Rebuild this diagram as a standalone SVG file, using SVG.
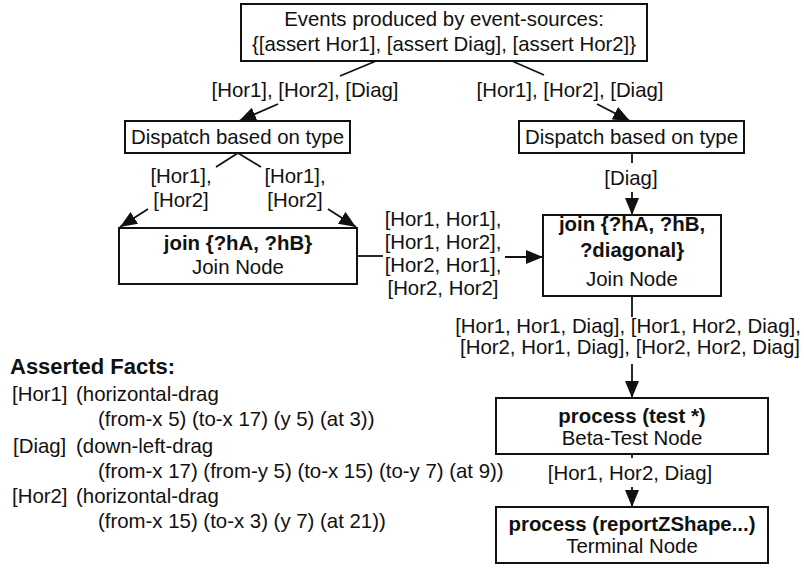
<svg xmlns="http://www.w3.org/2000/svg" width="804" height="568" viewBox="0 0 804 568">
<style>
text{font-family:"Liberation Sans",Arial,Helvetica,sans-serif;font-size:20.4px;fill:#111}
.c{text-anchor:middle}
.b{font-weight:bold}
.box{fill:#fff;stroke:#111;stroke-width:2}
.ln{stroke:#111;stroke-width:1.8;fill:none}
.ar{marker-end:url(#ah)}
</style>
<defs>
<marker id="ah" markerUnits="userSpaceOnUse" markerWidth="18" markerHeight="15" refX="17" refY="7" orient="auto">
<path d="M0,0 L17,7 L0,14 z" fill="#111"/>
</marker>
</defs>
<rect width="804" height="568" fill="#fff"/>
<g id="connectors">
<line class="ln" x1="376" y1="61" x2="340" y2="76"/>
<line class="ln ar" x1="278" y1="104" x2="239" y2="121"/>
<line class="ln" x1="512" y1="61" x2="544" y2="75"/>
<line class="ln ar" x1="597" y1="104" x2="630" y2="121"/>
<line class="ln" x1="238" y1="153" x2="216" y2="167"/>
<line class="ln" x1="238" y1="153" x2="261" y2="167"/>
<line class="ln ar" x1="148" y1="209" x2="120" y2="227"/>
<line class="ln ar" x1="328" y1="209" x2="356" y2="227"/>
<line class="ln" x1="632" y1="153" x2="632" y2="163"/>
<line class="ln ar" x1="632" y1="192" x2="632" y2="215"/>
<line class="ln" x1="357" y1="256" x2="383" y2="256"/>
<line class="ln ar" x1="505" y1="257" x2="543" y2="257"/>
<line class="ln" x1="632" y1="296" x2="632" y2="317"/>
<line class="ln ar" x1="632" y1="364" x2="632" y2="398"/>
<line class="ln" x1="632" y1="454" x2="632" y2="458"/>
<line class="ln ar" x1="632" y1="487" x2="632" y2="507"/>
<text class="c" x="305" y="97">[Hor1], [Hor2], [Diag]</text>
<text class="c" x="570" y="97">[Hor1], [Hor2], [Diag]</text>
<text class="c" x="181" y="183">[Hor1],</text>
<text class="c" x="181" y="207">[Hor2]</text>
<text class="c" x="295" y="183">[Hor1],</text>
<text class="c" x="295" y="207">[Hor2]</text>
<text class="c" x="631" y="185">[Diag]</text>
<text class="c" x="443" y="226">[Hor1, Hor1],</text>
<text class="c" x="443" y="249">[Hor1, Hor2],</text>
<text class="c" x="443" y="272">[Hor2, Hor1],</text>
<text class="c" x="443" y="295">[Hor2, Hor2]</text>
<text class="c" x="628" y="333">[Hor1, Hor1, Diag], [Hor1, Hor2, Diag],</text>
<text class="c" x="630" y="354">[Hor2, Hor1, Diag], [Hor2, Hor2, Diag]</text>
<text class="c" x="630" y="480">[Hor1, Hor2, Diag]</text>
</g>
<g id="events">
<rect class="box" x="241" y="4" width="406" height="57"/>
<text class="c" x="444" y="26">Events produced by event-sources:</text>
<text class="c" x="444" y="51">{[assert Hor1], [assert Diag], [assert Hor2]}</text>
</g>
<g id="dispatch-left">
<rect class="box" x="125" y="121" width="225" height="32"/>
<text class="c" x="237.5" y="144">Dispatch based on type</text>
</g>
<g id="dispatch-right">
<rect class="box" x="519" y="121" width="225" height="32"/>
<text class="c" x="631.5" y="144">Dispatch based on type</text>
</g>
<g id="join-left">
<rect class="box" x="119" y="228" width="238" height="56"/>
<text class="c b" x="238" y="250">join {?hA, ?hB}</text>
<text class="c" x="238" y="274">Join Node</text>
</g>
<g id="join-right">
<rect class="box" x="543" y="215" width="178" height="81"/>
<text class="c b" x="632" y="231">join {?hA, ?hB,</text>
<text class="c b" x="632" y="257">?diagonal}</text>
<text class="c" x="632" y="286">Join Node</text>
</g>
<g id="beta-test">
<rect class="box" x="496" y="398" width="272" height="56"/>
<text class="c b" x="632" y="423">process (test *)</text>
<text class="c" x="632" y="445">Beta-Test Node</text>
</g>
<g id="terminal">
<rect class="box" x="496" y="507" width="272" height="56"/>
<text class="c b" x="632" y="531">process (reportZShape...)</text>
<text class="c" x="632" y="553">Terminal Node</text>
</g>
<g id="facts">
<text class="b" x="10" y="374" style="font-size:22px">Asserted Facts:</text>
<text x="12" y="401">[Hor1]</text>
<text x="76" y="401">(horizontal-drag</text>
<text x="98" y="426">(from-x 5) (to-x 17) (y 5) (at 3))</text>
<text x="13" y="453">[Diag]</text>
<text x="76" y="453">(down-left-drag</text>
<text x="98" y="478">(from-x 17) (from-y 5) (to-x 15) (to-y 7) (at 9))</text>
<text x="12" y="503">[Hor2]</text>
<text x="76" y="503">(horizontal-drag</text>
<text x="98" y="528">(from-x 15) (to-x 3) (y 7) (at 21))</text>
</g>
</svg>
